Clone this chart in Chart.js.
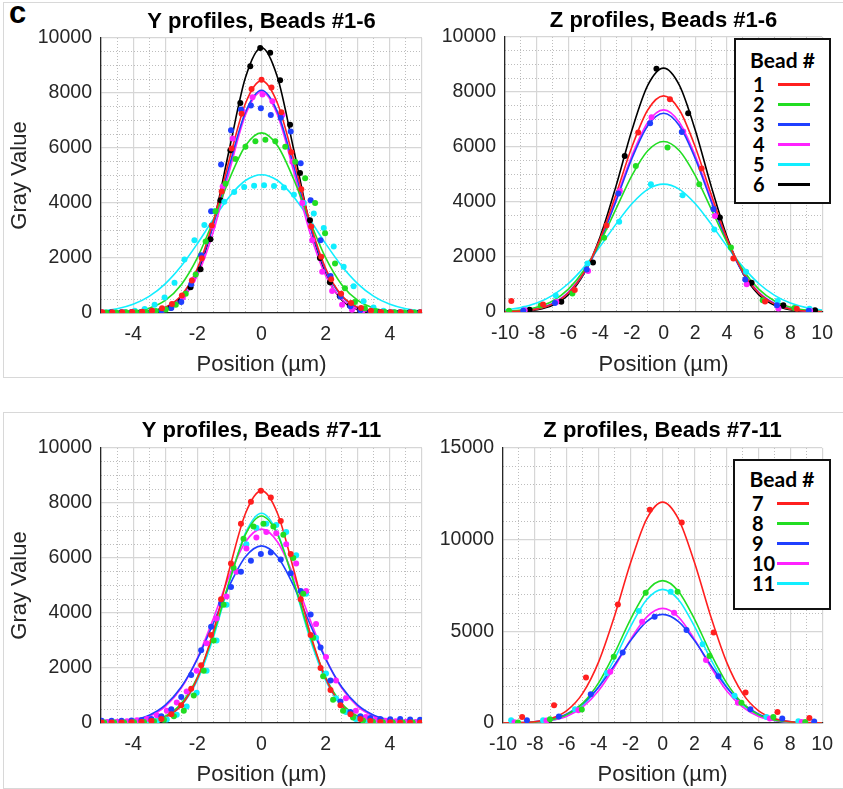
<!DOCTYPE html>
<html>
<head>
<meta charset="utf-8">
<script src="https://cdn.jsdelivr.net/npm/chart.js@4.4.0/dist/chart.umd.min.js"></script>
<style>
  body { margin: 0; background: #fff; width: 843px; height: 789px; position: relative; overflow: hidden; font-family: 'Liberation Sans', Arial, sans-serif; }
  canvas { position: absolute; }
  #tag { position: absolute; left: 9px; top: -3px; font: bold 31px/31px 'Liberation Sans', Arial, sans-serif; color: #000; }
  .frame { position: absolute; border: 1px solid #d8d8d8; }
  .legend { position: absolute; border: 2px solid #111; background: #fff; font-family: Lato, 'Open Sans', sans-serif; font-weight: bold; color: #000; box-sizing: border-box; }
  .legend div { position: absolute; }
</style>
</head>
<body>
<div class="frame" style="left:3px;top:2px;width:839px;height:374px;border-right:none"></div>
<div class="frame" style="left:3px;top:412px;width:839px;height:375px;border-right:none"></div>
<div id="tag">c</div>
<canvas id="yTop" width="432" height="380" style="left:0;top:0"></canvas>
<canvas id="zTop" width="411" height="380" style="left:432px;top:0"></canvas>
<canvas id="yBot" width="432" height="399" style="left:0;top:390px"></canvas>
<canvas id="zBot" width="411" height="399" style="left:432px;top:390px"></canvas>
<div id="legTop" class="legend" style="left:734px;top:38px;width:97px;height:166px"></div>
<div id="legBot" class="legend" style="left:733px;top:459px;width:98px;height:151px"></div>
<script>
// bead colours (MATLAB r, g, b, m, c, k)
var COLORS = ['#ff1f1f', '#22dd22', '#1f3fff', '#ff22ff', '#11eeff', '#000000'];

var BEADS_TOP = ['1', '2', '3', '4', '5', '6'];
var BEADS_BOT = ['7', '8', '9', '10', '11'];

// pixel positions of the measured profiles (um)
var POS_Y = [-4.96, -4.65, -4.34, -4.03, -3.72, -3.41, -3.10, -2.79, -2.48, -2.17, -1.86, -1.55, -1.24, -0.93, -0.62, -0.31, 0,
             0.31, 0.62, 0.93, 1.24, 1.55, 1.86, 2.17, 2.48, 2.79, 3.10, 3.41, 3.72, 4.03, 4.34, 4.65, 4.96];
var POS_Z = [-9, -7, -5, -3, -1, 1, 3, 5, 7, 9];
// x where the fitted curves are read
var FIT_X_Y = [-5, -4.5, -4, -3.5, -3, -2.5, -2, -1.5, -1, -0.5, 0, 0.5, 1, 1.5, 2, 2.5, 3, 3.5, 4, 4.5, 5];
var FIT_X_Z = [-10, -9, -8, -7, -6, -5, -4, -3, -2, -1, 0, 1, 2, 3, 4, 5, 6, 7, 8, 9, 10];

// centre offset of every bead's samples
var SHIFT_Y_TOP = [0, 0.12, -0.02, 0.03, 0.08, -0.04];
var SHIFT_Z_TOP = [-0.6, -0.75, 0.15, 0.24, 0.2, 0.55];
var SHIFT_Y_BOT = [-0.02, 0.06, -0.02, 0.15, 0.15];
var SHIFT_Z_BOT = [0.2, -0.06, 0.5, -0.28, -0.49];

// ---- Y profiles, beads 1-6 ----
var PTS_Y_TOP = [
  [30,25,30,35,45,80,170,330,640,1180,1990,3180,4420,5980,7250,8150,8480,8200,7300,5850,4500,3150,2050,1230,700,360,180,80,40,30,25,30,25],
  [20,20,25,30,40,70,130,300,700,1400,2600,3700,4700,5600,6050,6250,6300,6250,6050,5500,4900,4000,2900,1800,900,400,170,70,40,30,20,20,20],
  [20,20,20,30,40,60,90,180,400,1050,2100,3700,5400,6650,7400,7550,7450,7200,7100,6600,5450,4100,2650,1350,600,250,100,50,30,20,20,20,20],
  [10,10,15,20,30,60,120,300,560,1200,2050,3150,4600,6350,7350,7850,7950,7700,7200,5500,4000,2650,1500,800,300,120,40,20,10,10,10,10,10],
  [20,30,40,80,150,300,560,1100,1950,2650,3200,3700,4050,4400,4580,4630,4650,4620,4560,4300,4000,3620,3090,2420,1680,970,430,200,80,40,30,20,20],
  [15,15,15,15,15,25,85,190,430,940,1590,2680,4100,5920,7640,8970,9640,9460,8460,6850,5090,3370,2000,1120,610,270,120,40,25,20,20,20,20]
];
var FIT_Y_TOP = [
  [0,2,11,54,205,639,1618,3335,5590,7620,8450,7620,5590,3335,1618,639,205,54,11,2,0],
  [4,16,58,175,457,1031,2006,3366,4873,6083,6550,6083,4873,3366,2006,1031,457,175,58,16,4],
  [0,2,11,51,197,612,1551,3197,5359,7305,8100,7305,5359,3197,1551,612,197,51,11,2,0],
  [0,1,6,35,147,499,1357,2957,5158,7202,8050,7202,5158,2957,1357,499,147,35,6,1,0],
  [67,152,316,604,1060,1706,2518,3408,4231,4817,5030,4817,4231,3408,2518,1706,1060,604,316,152,67],
  [0,0,4,27,128,478,1410,3270,5965,8560,9650,8560,5965,3270,1410,478,128,27,4,0,0]
];

// ---- Z profiles, beads 1-6 ----
var PTS_Z_TOP = [
  [400,270,800,3150,6530,7740,5220,1950,380,120],
  [50,240,670,2700,5310,5980,4650,2350,430,150],
  [50,330,1550,4310,6860,6550,3750,1180,250,50],
  [60,360,1490,4400,7080,6560,3490,1010,130,40],
  [120,600,1760,3280,4650,4250,3000,1460,400,120],
  [85,370,1800,5670,8850,7230,3440,1060,250,60]
];
var FIT_Z_TOP = [
  [9,33,104,287,691,1452,2666,4279,5999,7347,7860,7347,5999,4279,2666,1452,691,287,104,33,9],
  [23,67,174,401,830,1534,2536,3750,4959,5863,6200,5863,4959,3750,2536,1534,830,401,174,67,23],
  [11,38,113,300,698,1427,2558,4031,5577,6775,7230,6775,5577,4031,2558,1427,698,300,113,38,11],
  [12,40,120,315,726,1472,2627,4120,5683,6892,7350,6892,5683,4120,2627,1472,726,315,120,40,12],
  [72,159,323,604,1037,1641,2387,3196,3936,4460,4650,4460,3936,3196,2387,1641,1037,604,323,159,72],
  [6,23,80,242,628,1411,2735,4577,6610,8241,8870,8241,6610,4577,2735,1411,628,242,80,23,6]
];

// ---- Y profiles, beads 7-11 ----
var PTS_Y_BOT = [
  [20,20,20,30,40,70,150,320,650,1250,2100,3200,4500,5800,7250,8050,8450,8200,7350,6150,4500,3200,2000,1200,650,320,150,70,40,30,20,20,20],
  [20,20,20,30,40,60,120,250,450,1000,1900,3000,4300,5650,6700,7150,7250,7150,6850,6000,4700,3100,1700,850,450,200,90,50,30,20,20,20,20],
  [80,80,80,90,100,150,250,500,950,1750,2650,3500,4350,4950,5500,5900,6150,6200,5950,5450,4800,3950,2750,1550,780,400,250,180,150,140,150,130,120],
  [40,50,60,100,150,280,450,750,1150,1900,2900,3800,4600,5500,6350,6750,6950,6900,6500,5800,4800,3600,2400,1550,900,450,220,120,80,60,50,40,40],
  [20,20,20,30,40,70,130,300,600,1100,1900,3000,4300,5500,6500,7100,7250,7200,6950,6100,4700,3100,1800,900,400,150,60,40,30,20,20,20,20]
];
var FIT_Y_BOT = [
  [0,2,11,54,205,639,1618,3335,5590,7620,8450,7620,5590,3335,1618,639,205,54,11,2,0],
  [1,4,18,73,251,709,1660,3216,5160,6851,7530,6851,5160,3216,1660,709,251,73,18,4,1],
  [11,37,109,283,649,1308,2322,3628,4990,6042,6440,6042,4990,3628,2322,1308,649,283,109,37,11],
  [7,27,87,245,597,1269,2353,3803,5358,6583,7050,6583,5358,3803,2353,1269,597,245,87,27,7],
  [0,2,13,58,211,632,1550,3112,5122,6907,7630,6907,5122,3112,1550,632,211,58,13,2,0]
];

// ---- Z profiles, beads 7-11 ----
var PTS_Z_BOT = [
  [330,970,2480,6470,11630,10940,4940,1660,600,270],
  [30,200,730,3610,7110,7165,3660,1100,330,60],
  [146,350,1570,3850,5800,5070,2550,750,240,80],
  [40,130,700,2790,5520,6020,3430,1110,250,60],
  [150,150,750,2730,6110,7165,4300,1480,330,90]
];
var FIT_Z_BOT = [
  [4,18,72,239,676,1631,3350,5866,8750,11123,12050,11123,8750,5866,3350,1631,676,239,72,18,4],
  [3,13,50,164,456,1084,2203,3823,5668,7178,7766,7178,5668,3823,2203,1084,456,164,50,13,3],
  [6,22,72,202,495,1056,1965,3185,4496,5530,5925,5530,4496,3185,1965,1056,495,202,72,22,6],
  [2,11,41,132,367,873,1773,3077,4561,5777,6250,5777,4561,3077,1773,873,367,132,41,11,2],
  [2,10,40,136,391,955,1985,3507,5266,6721,7290,6721,5266,3507,1985,955,391,136,40,10,2]
];

var FONT = "'Liberation Sans', Arial, sans-serif";
var AXIS_COLOR = '#262626';

function isMultiple(v, step) {
  var r = Math.abs(v / step - Math.round(v / step));
  return r < 1e-6;
}

function makePanel(id, p) {
  var datasets = [];
  p.pts.forEach(function (vals, b) {
    datasets.push({
      data: vals.map(function (v, i) { return {x: p.pos[i] + p.shift[b], y: v}; }),
      showLine: false,
      pointRadius: 3,
      pointBorderWidth: 0,
      pointBackgroundColor: COLORS[b],
      borderColor: COLORS[b],
      order: 0
    });
  });
  p.fit.forEach(function (vals, b) {
    datasets.push({
      data: vals.map(function (v, i) { return {x: p.fitX[i], y: v}; }),
      borderColor: COLORS[b],
      borderWidth: 1.6,
      pointRadius: 0,
      cubicInterpolationMode: 'monotone',
      order: 1
    });
  });

  new Chart(document.getElementById(id).getContext('2d'), {
    type: 'line',
    data: {datasets: datasets},
    options: {
      responsive: false,
      animation: false,
      events: [],
      layout: {padding: {left: 0, right: p.padRight, top: 0, bottom: 0}},
      plugins: {
        legend: {display: false},
        tooltip: {enabled: false},
        title: {
          display: true,
          fullSize: false,
          text: p.title,
          color: '#000',
          font: {family: FONT, size: 22, weight: 'bold'},
          padding: p.titlePad
        }
      },
      scales: {
        x: {
          type: 'linear', min: p.xMin, max: p.xMax,
          ticks: {
            stepSize: p.xMajor, autoSkip: false, maxRotation: 0, padding: 10,
            color: AXIS_COLOR, font: {family: FONT, size: 19.5},
            callback: function (v) { return isMultiple(v, 2) ? String(v) : ''; }
          },
          grid: {color: '#d6d6d6', lineWidth: 1.2, drawTicks: false},
          border: {color: AXIS_COLOR, width: 1.3},
          title: {display: true, text: 'Position (µm)', color: AXIS_COLOR,
                  font: {family: FONT, size: 22}, padding: {top: 0, bottom: p.xTitlePad}},
          afterFit: function (s) { s.height = p.xH; }
        },
        xMinor: {
          type: 'linear', position: 'bottom', min: p.xMin, max: p.xMax,
          ticks: {display: false, stepSize: p.xMinor, autoSkip: false},
          grid: {
            drawTicks: false, lineWidth: 1,
            color: function (c) { return isMultiple(c.tick.value, p.xMajor) ? 'rgba(0,0,0,0)' : '#bdbdbd'; }
          },
          border: {display: false, dash: [1, 2]},
          afterFit: function (s) { s.height = 0; }
        },
        y: {
          type: 'linear', min: 0, max: p.yMax,
          ticks: {
            stepSize: p.yMajor, autoSkip: false, padding: 9,
            color: AXIS_COLOR, font: {family: FONT, size: 19.5},
            callback: function (v) { return String(v); }
          },
          grid: {color: '#d6d6d6', lineWidth: 1.2, drawTicks: false},
          border: {color: AXIS_COLOR, width: 1.3},
          title: {display: p.yTitle, text: 'Gray Value', color: AXIS_COLOR,
                  font: {family: FONT, size: 22}, padding: {top: 6.8, bottom: 0}},
          afterFit: function (s) { s.width = p.yW; }
        },
        yMinor: {
          type: 'linear', position: 'left', min: 0, max: p.yMax,
          ticks: {display: false, stepSize: p.yMinor, autoSkip: false},
          grid: {
            drawTicks: false, lineWidth: 1,
            color: function (c) { return isMultiple(c.tick.value, p.yMajor) ? 'rgba(0,0,0,0)' : '#bdbdbd'; }
          },
          border: {display: false, dash: [1, 2]},
          afterFit: function (s) { s.width = 0; }
        }
      }
    }
  });
}

makePanel('yTop', {
  title: 'Y profiles, Beads #1-6', pts: PTS_Y_TOP, fit: FIT_Y_TOP, pos: POS_Y, shift: SHIFT_Y_TOP, fitX: FIT_X_Y,
  xMin: -5, xMax: 5, xMajor: 1, xMinor: 0.5, yMax: 10000, yMajor: 2000, yMinor: 500,
  padRight: 4, yW: 101, xH: 67, xTitlePad: 1.8, yTitle: true, titlePad: {top: 8.8, bottom: 2.8}
});
makePanel('zTop', {
  title: 'Z profiles, Beads #1-6', pts: PTS_Z_TOP, fit: FIT_Z_TOP, pos: POS_Z, shift: SHIFT_Z_TOP, fitX: FIT_X_Z,
  xMin: -10, xMax: 10, xMajor: 2, xMinor: 1, yMax: 10000, yMajor: 2000, yMinor: 500,
  padRight: 12, yW: 73, xH: 68, xTitlePad: 1.8, yTitle: false, titlePad: {top: 7.3, bottom: 3.3}
});
makePanel('yBot', {
  title: 'Y profiles, Beads #7-11', pts: PTS_Y_BOT, fit: FIT_Y_BOT, pos: POS_Y, shift: SHIFT_Y_BOT, fitX: FIT_X_Y,
  xMin: -5, xMax: 5, xMajor: 1, xMinor: 0.5, yMax: 10000, yMajor: 2000, yMinor: 500,
  padRight: 4, yW: 101, xH: 66, xTitlePad: 0.8, yTitle: true, titlePad: {top: 27.3, bottom: 4.3}
});
makePanel('zBot', {
  title: 'Z profiles, Beads #7-11', pts: PTS_Z_BOT, fit: FIT_Z_BOT, pos: POS_Z, shift: SHIFT_Z_BOT, fitX: FIT_X_Z,
  xMin: -10, xMax: 10, xMajor: 2, xMinor: 1, yMax: 15000, yMajor: 5000, yMinor: 1000,
  padRight: 12, yW: 71, xH: 66, xTitlePad: 0.8, yTitle: false, titlePad: {top: 27.3, bottom: 4.3}
});

// boxed "Bead #" legends
function makeLegend(id, names, firstRow, titleTop) {
  var box = document.getElementById(id);
  var head = document.createElement('div');
  head.textContent = 'Bead #';
  head.style.cssText = 'left:0;width:100%;text-align:center;font-size:21px;line-height:24px;top:' + titleTop + 'px';
  box.appendChild(head);
  names.forEach(function (n, i) {
    var y = firstRow + 20 * i;
    var t = document.createElement('div');
    t.textContent = n;
    t.style.cssText = 'left:17px;font-size:20px;line-height:20px;top:' + (y - 10) + 'px';
    box.appendChild(t);
    var l = document.createElement('div');
    l.style.cssText = 'left:42px;width:32px;height:3px;top:' + (y - 1.5) + 'px;background:' + COLORS[i];
    box.appendChild(l);
  });
}
makeLegend('legTop', BEADS_TOP, 44, 8);
makeLegend('legBot', BEADS_BOT, 42, 6);
</script>
</body>
</html>
